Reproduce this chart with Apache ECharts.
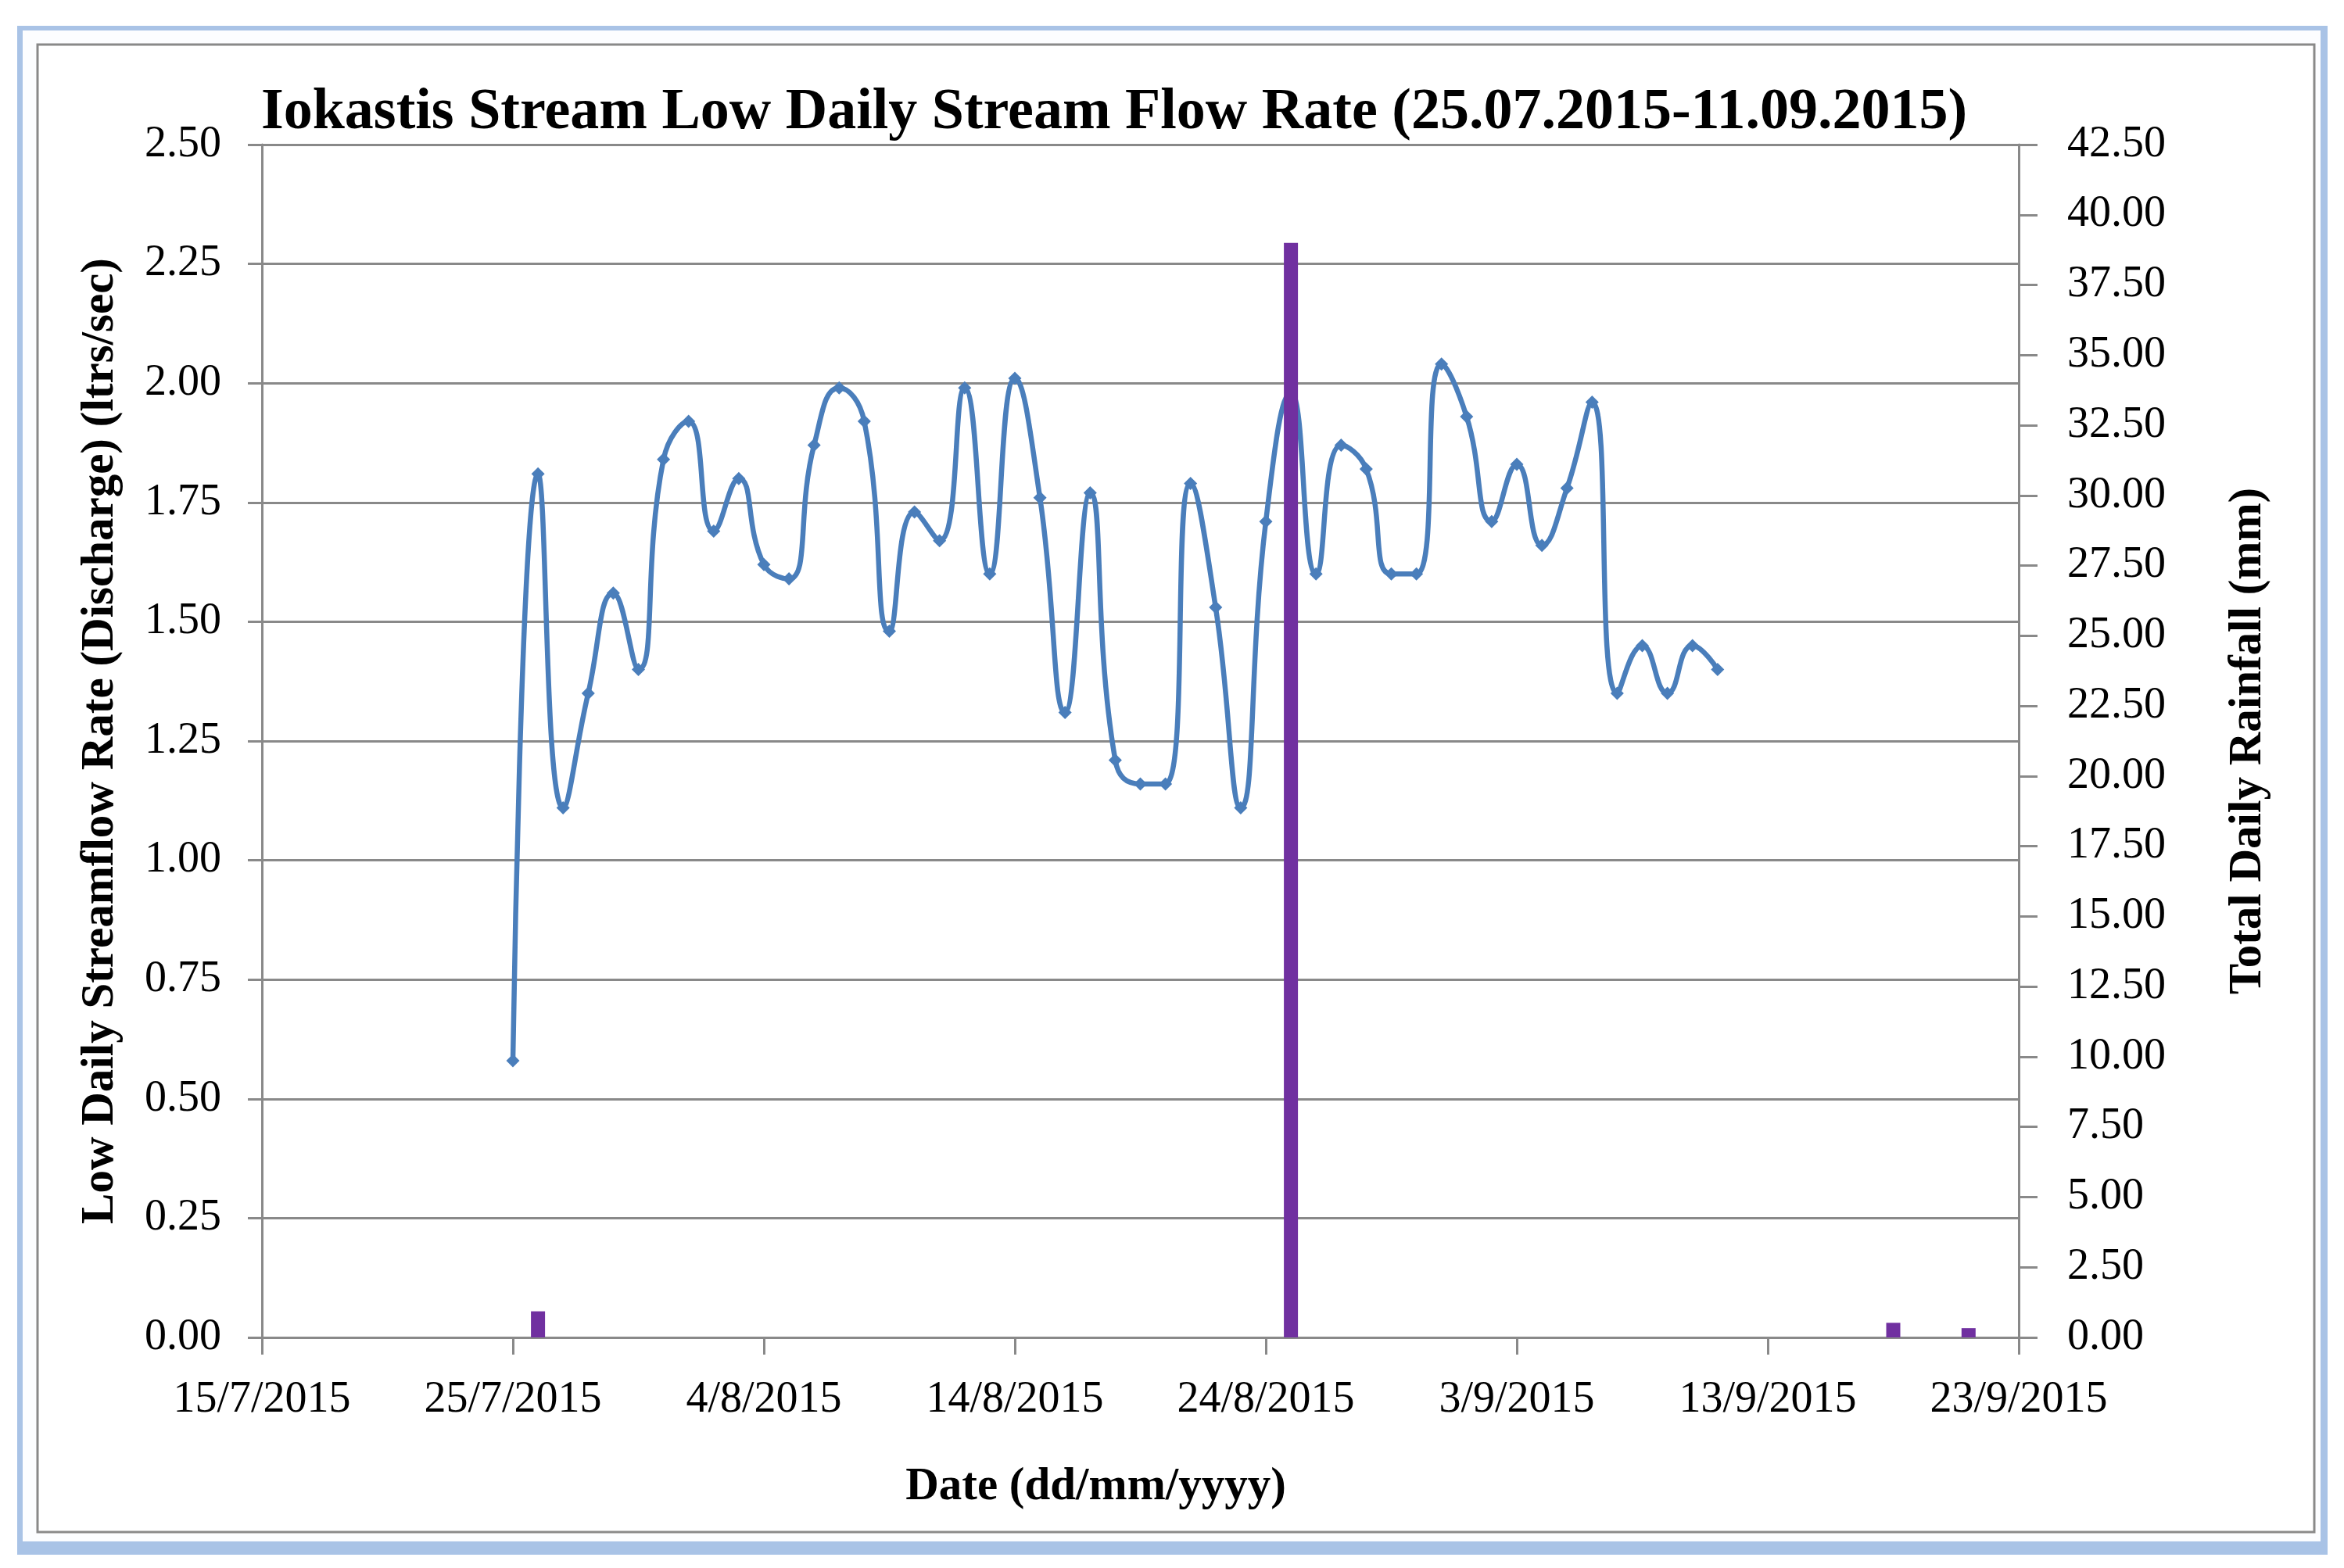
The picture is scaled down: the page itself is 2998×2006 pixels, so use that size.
<!DOCTYPE html>
<html><head><meta charset="utf-8">
<script src="https://cdn.jsdelivr.net/npm/echarts@6/dist/echarts.min.js"></script>
<style>html,body{margin:0;padding:0;background:#fff}#c{width:2998px;height:2006px}</style>
</head><body><div id="c"></div>
<script>
const flowDates = ['25/07/2015','26/07/2015','27/07/2015','28/07/2015','29/07/2015','30/07/2015','31/07/2015',
  '01/08/2015','02/08/2015','03/08/2015','04/08/2015','05/08/2015','06/08/2015','07/08/2015','08/08/2015','09/08/2015',
  '10/08/2015','11/08/2015','12/08/2015','13/08/2015','14/08/2015','15/08/2015','16/08/2015','17/08/2015','18/08/2015',
  '19/08/2015','20/08/2015','21/08/2015','22/08/2015','23/08/2015','24/08/2015','25/08/2015','26/08/2015','27/08/2015',
  '28/08/2015','29/08/2015','30/08/2015','31/08/2015','01/09/2015','02/09/2015','03/09/2015','04/09/2015','05/09/2015',
  '06/09/2015','07/09/2015','08/09/2015','09/09/2015','10/09/2015','11/09/2015'];
const flowValues = [0.58,1.81,1.11,1.35,1.56,1.40,1.84,
  1.92,1.69,1.80,1.62,1.59,1.87,1.99,1.92,1.48,
  1.73,1.67,1.99,1.60,2.01,1.76,1.31,1.77,1.21,
  1.16,1.16,1.79,1.53,1.11,1.71,1.98,1.60,1.87,
  1.82,1.60,1.60,2.04,1.93,1.71,1.83,1.66,1.78,
  1.96,1.35,1.45,1.35,1.45,1.40];
const rainDates = ['26/07/2015','25/08/2015','18/09/2015','21/09/2015'];
const rainValues = [0.93,39.00,0.52,0.33];
const axisStartDate = '15/07/2015';
const axisEndDate = '23/09/2015';
const xTickDays = 10;
const flowTicks = [0, 2.5, 0.25];
const rainTicks = [0, 42.5, 2.5];

const DAY = 86400000;
function parseDate(s){const p=s.split('/').map(Number);return Date.UTC(p[2],p[1]-1,p[0]);}
const base = parseDate(axisStartDate);
function toDays(s){return Math.round((parseDate(s)-base)/DAY);}
function fmtDay(v){const d=new Date(base+v*DAY);return d.getUTCDate()+'/'+(d.getUTCMonth()+1)+'/'+d.getUTCFullYear();}

const gray='#898989';
const serif='"Liberation Serif", "Times New Roman", serif';
const chart = echarts.init(document.getElementById('c'));
chart.setOption({
  backgroundColor:'#ffffff',
  animation:false,
  graphic:[
    {type:'rect',z:-10,silent:true,shape:{x:22,y:33,width:2955,height:1956},style:{fill:'#a9c3e6'}},
    {type:'rect',z:-9,silent:true,shape:{x:29,y:39,width:2939,height:1933},style:{fill:'#fcfdff'}},
    {type:'rect',z:-8,silent:true,shape:{x:48,y:57,width:2912,height:1903},style:{fill:'#ffffff',stroke:gray,lineWidth:3}}
  ],
  title:{
    text:'Iokastis Stream Low Daily Stream Flow Rate (25.07.2015-11.09.2015)',
    left:1420, top:103, textAlign:'center',
    textStyle:{fontFamily:serif,fontWeight:'bold',fontSize:74,color:'#000'}
  },
  grid:{left:335,right:416,top:185,bottom:295,containLabel:false},
  xAxis:{
    type:'value', min:toDays(axisStartDate), max:toDays(axisEndDate), interval:xTickDays,
    name:'Date (dd/mm/yyyy)', nameLocation:'middle', nameGap:162,
    nameTextStyle:{fontFamily:serif,fontWeight:'bold',fontSize:59,color:'#000',padding:[0,114,0,0]},
    axisLine:{show:true,onZero:false,lineStyle:{color:gray,width:3}},
    axisTick:{show:true,length:22,lineStyle:{color:gray,width:3}},
    axisLabel:{formatter:fmtDay,fontFamily:serif,fontSize:56,color:'#000',margin:52},
    splitLine:{show:false}
  },
  yAxis:[
    {type:'value',min:flowTicks[0],max:flowTicks[1],interval:flowTicks[2],position:'left',
     name:'Low Daily Streamflow Rate (Discharge) (ltrs/sec)',nameLocation:'middle',nameGap:177,
     nameTextStyle:{fontFamily:serif,fontWeight:'bold',fontSize:59,color:'#000'},
     axisLine:{show:true,lineStyle:{color:gray,width:3}},
     axisTick:{show:true,length:18,lineStyle:{color:gray,width:3}},
     axisLabel:{formatter:v=>v.toFixed(2),fontFamily:serif,fontSize:56,color:'#000',margin:52},
     splitLine:{show:true,lineStyle:{color:gray,width:3}}},
    {type:'value',min:rainTicks[0],max:rainTicks[1],interval:rainTicks[2],position:'right',
     name:'Total Daily Rainfall (mm)',nameLocation:'middle',nameGap:264,nameRotate:90,
     nameTextStyle:{fontFamily:serif,fontWeight:'bold',fontSize:59,color:'#000'},
     axisLine:{show:true,lineStyle:{color:gray,width:3}},
     axisTick:{show:true,length:24,lineStyle:{color:gray,width:3}},
     axisLabel:{formatter:v=>v.toFixed(2),fontFamily:serif,fontSize:56,color:'#000',margin:62},
     splitLine:{show:false}}
  ],
  series:[
    {type:'line',name:'Streamflow',yAxisIndex:0,z:2,smooth:0.5,
     data:flowDates.map((d,i)=>[toDays(d),flowValues[i]]),
     symbol:'diamond',symbolSize:17,
     lineStyle:{color:'#4a7ebb',width:6.5},
     itemStyle:{color:'#4a7ebb'}},
    {type:'bar',name:'Rainfall',yAxisIndex:1,z:3,barWidth:18,
     data:rainDates.map((d,i)=>[toDays(d),rainValues[i]]),
     itemStyle:{color:'#7030a0'}}
  ]
});
</script></body></html>
